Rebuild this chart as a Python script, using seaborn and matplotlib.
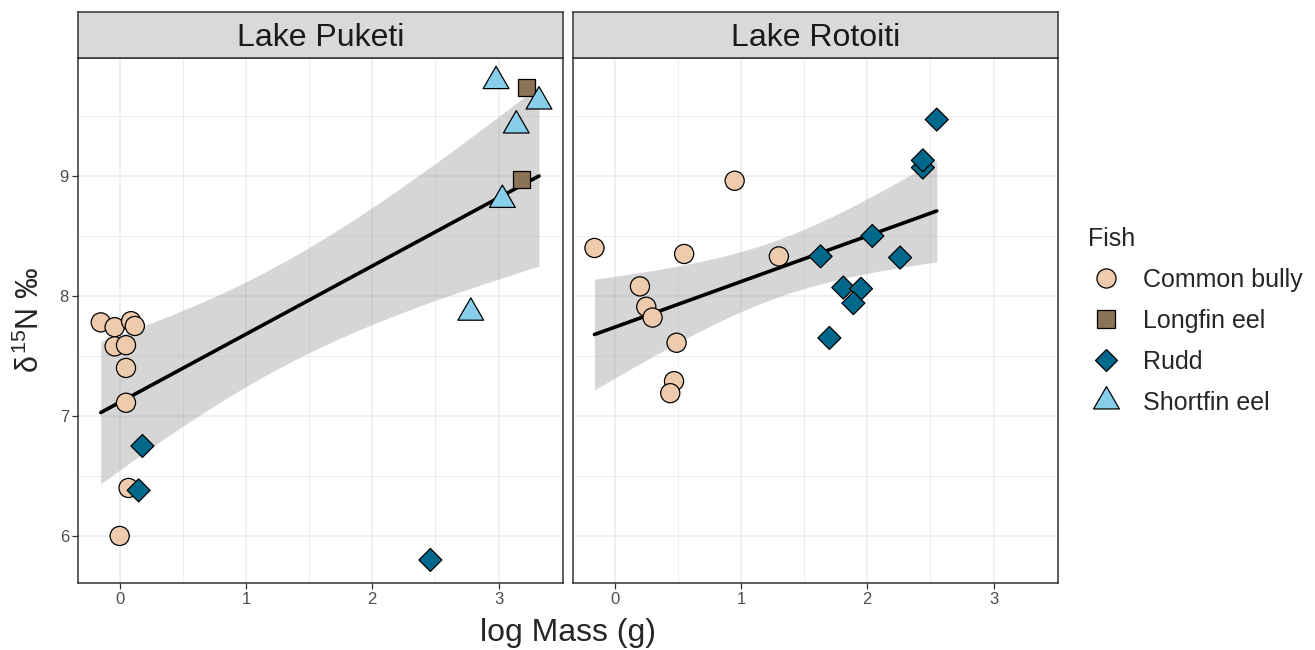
import numpy as np
import pandas as pd
import matplotlib
matplotlib.use("Agg")
import matplotlib.pyplot as plt
from matplotlib.path import Path
from matplotlib.lines import Line2D
import seaborn as sns

# Data (log mass, d15N) per lake and fish
fish_levels = ["Common bully", "Longfin eel", "Rudd", "Shortfin eel"]

puketi_fish = (["Common bully"] * 10 + ["Rudd"] * 3 + ["Longfin eel"] * 2
               + ["Shortfin eel"] * 5)
puketi_mass = [-0.15, -0.04, 0.09, 0.12, -0.04, 0.05, 0.05, 0.05, 0.07, 0.00,
               0.18, 0.15, 2.46,
               3.22, 3.18,
               2.98, 3.32, 3.14, 3.03, 2.78]
puketi_d15n = [7.78, 7.74, 7.79, 7.75, 7.58, 7.59, 7.40, 7.11, 6.40, 6.00,
               6.75, 6.38, 5.80,
               9.74, 8.97,
               9.79, 9.62, 9.42, 8.80, 7.86]

rotoiti_fish = ["Common bully"] * 10 + ["Rudd"] * 10
rotoiti_mass = [-0.16, 0.95, 0.55, 1.30, 0.20, 0.25, 0.30, 0.49, 0.47, 0.44,
                1.63, 2.04, 2.26, 1.81, 1.95, 1.89, 1.70, 2.44, 2.44, 2.55]
rotoiti_d15n = [8.40, 8.96, 8.35, 8.33, 8.08, 7.91, 7.82, 7.61, 7.29, 7.19,
                8.33, 8.50, 8.32, 8.07, 8.06, 7.94, 7.65, 9.07, 9.13, 9.47]

lakes = ["Lake Puketi", "Lake Rotoiti"]
x_ticks = [0, 1, 2, 3]
y_ticks = [6, 7, 8, 9]

df = pd.concat([
    pd.DataFrame({"Lake": "Lake Puketi", "Fish": puketi_fish,
                  "logMass": puketi_mass, "d15N": puketi_d15n}),
    pd.DataFrame({"Lake": "Lake Rotoiti", "Fish": rotoiti_fish,
                  "logMass": rotoiti_mass, "d15N": rotoiti_d15n}),
], ignore_index=True)

# styling
palette = {"Common bully": "#EECBAD", "Longfin eel": "#8B7355",
           "Rudd": "#00688B", "Shortfin eel": "#87CEEB"}
tri = Path([(0, 1), (-0.866, -0.5), (0.866, -0.5), (0, 1)],
           [Path.MOVETO, Path.LINETO, Path.LINETO, Path.CLOSEPOLY])
markers = {"Common bully": "o", "Longfin eel": "s", "Rudd": "D", "Shortfin eel": tri}
sizes = {"Common bully": 190, "Longfin eel": 150, "Rudd": 137, "Shortfin eel": 460}

sns.set_theme(style="white")
plt.rcParams["font.family"] = ["Liberation Sans", "DejaVu Sans"]
plt.rcParams["mathtext.fontset"] = "custom"
plt.rcParams["mathtext.rm"] = "Liberation Sans"
plt.rcParams["mathtext.it"] = "Liberation Sans"

W, H = 1315, 650
fig = plt.figure(figsize=(W / 100, H / 100), dpi=100)

def px_box(x0, y0, x1, y1):
    return [x0 / W, 1 - y1 / H, (x1 - x0) / W, (y1 - y0) / H]

panel_x = [(78, 563), (573, 1058)]
edge = "#333333"

try:
    from scipy import stats
    def tval(dof):
        return stats.t.ppf(0.975, dof)
except ImportError:
    def tval(dof):
        return 2.101  # df = 18

for i, lake in enumerate(lakes):
    x0, x1 = panel_x[i]
    ax = fig.add_axes(px_box(x0, 58, x1, 583))
    sub = df[df["Lake"] == lake]

    # linear fit with 95% confidence band
    xv = sub["logMass"].to_numpy()
    yv = sub["d15N"].to_numpy()
    n = len(xv)
    b, a = np.polyfit(xv, yv, 1)
    resid = yv - (a + b * xv)
    s = np.sqrt(np.sum(resid ** 2) / (n - 2))
    xg = np.linspace(xv.min(), xv.max(), 100)
    se = s * np.sqrt(1 / n + (xg - xv.mean()) ** 2 / np.sum((xv - xv.mean()) ** 2))
    yg = a + b * xg
    t = tval(n - 2)
    ax.fill_between(xg, yg - t * se, yg + t * se, color="#999999", alpha=0.4,
                    linewidth=0, zorder=2)
    sns.regplot(data=sub, x="logMass", y="d15N", scatter=False, ci=None,
                truncate=True, color="black", line_kws={"lw": 2.6, "zorder": 3},
                ax=ax)

    sns.scatterplot(data=sub, x="logMass", y="d15N", hue="Fish", style="Fish",
                    size="Fish", hue_order=fish_levels, style_order=fish_levels,
                    size_order=fish_levels, palette=palette, markers=markers,
                    sizes=sizes, edgecolor="black", linewidth=0.9, legend=False,
                    zorder=4, ax=ax)

    ax.set_xticks(x_ticks)
    ax.set_xticks([-0.5 + k for k in range(5)], minor=True)
    ax.set_yticks(y_ticks)
    ax.set_yticks([5.5, 6.5, 7.5, 8.5, 9.5], minor=True)
    ax.set_xlim(-0.33, 3.51)
    ax.set_ylim(5.608, 9.983)
    ax.grid(which="major", color="#EBEBEB", lw=1.1, zorder=0)
    ax.grid(which="minor", color="#EBEBEB", lw=0.6, zorder=0)
    ax.set_axisbelow(True)
    ax.set_xlabel("")
    ax.set_ylabel("")
    ax.tick_params(axis="both", which="major", length=4, width=0.9, color=edge,
                   labelsize=12, labelcolor="#4D4D4D", pad=2.5,
                   bottom=True, left=(i == 0))
    ax.tick_params(which="minor", length=0)
    if i > 0:
        ax.set_yticklabels([])
    for sp in ax.spines.values():
        sp.set_color(edge)
        sp.set_linewidth(1.1)

    # facet strip
    sax = fig.add_axes(px_box(x0, 12, x1, 58))
    sax.set_facecolor("#D9D9D9")
    sax.set_xticks([])
    sax.set_yticks([])
    for sp in sax.spines.values():
        sp.set_color(edge)
        sp.set_linewidth(1.1)
    sax.text(0.5, 12 / 46, lake, ha="center", va="baseline", fontsize=23,
             color="#1A1A1A", transform=sax.transAxes)

fig.text(568 / W, 1 - 641 / H, "log Mass (g)", ha="center", va="baseline",
         fontsize=23)
fig.text(30 / W, 1 - 320 / H, r"$\delta^{15}$N ‰", ha="center", va="center",
         rotation=90, fontsize=22)

handles = [Line2D([], [], linestyle="none", marker=markers[f],
                  markersize=np.sqrt(sizes[f]), markerfacecolor=palette[f],
                  markeredgecolor="black", markeredgewidth=0.9)
           for f in fish_levels]
fig.legend(handles, fish_levels, title="Fish", loc="upper left",
           bbox_to_anchor=(1088 / W, 1 - 227 / H), frameon=False,
           fontsize=18, title_fontsize=18, alignment="left",
           handlelength=1.4, handletextpad=0.8, labelspacing=0.68,
           borderpad=0, borderaxespad=0)

fig.savefig("out.png", dpi=100)
